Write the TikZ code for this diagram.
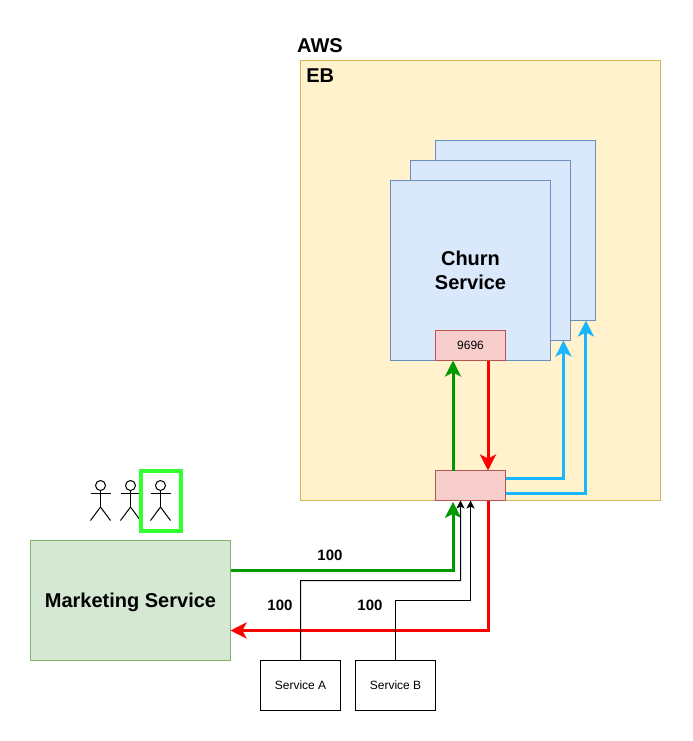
\documentclass[tikz,border=0pt]{standalone}
\usepackage{fontspec}
\setmainfont{Liberation Sans}
\usepackage[dvipsnames]{xcolor}
\usetikzlibrary{positioning,calc,arrows.meta}
\definecolor{ebfill}{HTML}{FFF2CC}
\definecolor{ebline}{HTML}{D6B656}
\definecolor{svcfill}{HTML}{DAE8FC}
\definecolor{svcline}{HTML}{6C8EBF}
\definecolor{lbfill}{HTML}{F8CECC}
\definecolor{lbline}{HTML}{B85450}
\definecolor{mktfill}{HTML}{D5E8D4}
\definecolor{mktline}{HTML}{82B366}
\definecolor{flowgreen}{HTML}{009900}
\definecolor{flowblue}{HTML}{1AB5FF}
\definecolor{pickgreen}{HTML}{33FF33}
\tikzset{
	box/.style={draw,rectangle,inner sep=0pt,outer sep=0pt,line width=.75pt,align=center},
	eb/.style={box,draw=ebline,fill=ebfill,minimum width=270pt,minimum height=330pt},
	svc/.style={box,draw=svcline,fill=svcfill,minimum width=120pt,minimum height=135pt},
	lb/.style={box,draw=lbline,fill=lbfill,minimum width=52.5pt,minimum height=22.5pt,font=\fontsize{9}{11}\selectfont},
	client/.style={box,draw=black,fill=white,minimum width=60pt,minimum height=37.5pt,font=\fontsize{9}{11}\selectfont},
	title/.style={draw=none,fill=none,inner sep=0pt,font=\fontsize{15}{18}\selectfont\bfseries},
	count/.style={draw=none,fill=none,font=\fontsize{11.25}{13}\selectfont\bfseries},
	flow/.style={line width=2.25pt,-{Stealth[length=12pt,width=12pt,inset=3pt]}},
	call/.style={line width=.75pt,-{Stealth[length=6pt,width=6pt,inset=1.5pt]}},
	actor/.pic={
		\draw[line width=.75pt] (0,-15) circle (3.75pt);
		\draw[line width=.75pt] (0,-10)--(0,6.5);
		\draw[line width=.75pt] (-10,-7)--(10,-7);
		\draw[line width=.75pt] (-10,20)--(0,6.5)--(10,20);
	}
}
\begin{document}
\begin{tikzpicture}[x=.75pt,y=-.75pt]
	\useasboundingbox (0,0) rectangle (692,741);
	\fill[white] (0,0) rectangle (692,741);

	\node[title] (aws) at (320,46) {AWS};
	\node[eb] (ebbox) at (480.5,280.5) {};
	\node[title,anchor=west] (eblabel) at (306,76) {EB};

	\node[svc] (svcback) at (515.5,230.5) {};
	\node[svc] (svcmid) at (490.5,250.5) {};
	\node[svc,font=\fontsize{15}{18}\selectfont\bfseries] (svcfront) at (470.5,270.5) {Churn\\Service};
	\node[lb] (port) at (470.5,345.5) {9696};
	\node[lb] (lbal) at (470.5,485.5) {};

	\node[box,draw=mktline,fill=mktfill,minimum width=150pt,minimum height=90pt,text depth=0pt,font=\fontsize{15}{18}\selectfont\bfseries] (mkt) at (130.5,600.5) {Marketing Service};
	\node[client] (sa) at (300.5,685.5) {Service A};
	\node[client] (sb) at (395.5,685.5) {Service B};

	\pic at (100.5,500.5) {actor};
	\pic at (130.5,500.5) {actor};
	\pic at (160.5,500.5) {actor};
	\node[draw=pickgreen,line width=3pt,inner sep=0pt,outer sep=0pt,minimum width=30pt,minimum height=45pt] (pick) at (160.5,500.5) {};

	% requests going in
	\coordinate (lbgreen) at ($(lbal.south west)!.25!(lbal.south east)$);
	\coordinate (lbred) at ($(lbal.south west)!.75!(lbal.south east)$);
	\coordinate (mktgreen) at ($(mkt.north east)!.25!(mkt.south east)$);
	\coordinate (mktred) at ($(mkt.north east)!.75!(mkt.south east)$);
	\draw[flow,flowgreen] (mktgreen) -| ([yshift=-1pt]lbgreen);
	\draw[flow,flowgreen] ($(lbal.north west)!.25!(lbal.north east)$) -- ($(port.south west)!.25!(port.south east)$);
	\draw[flow,red] ($(port.south west)!.75!(port.south east)$) -- ($(lbal.north west)!.75!(lbal.north east)$);
	\draw[flow,red] (lbred) |- (mktred);

	% to the other instances
	\draw[flow,flowblue] ($(lbal.north east)!.25!(lbal.south east)$) -| ($(svcmid.south west)!.956!(svcmid.south east)$);
	\draw[flow,flowblue] ($(lbal.north east)!.75!(lbal.south east)$) -| ($(svcback.south west)!.94!(svcback.south east)$);

	\draw[call] (sa.north) |- (460.5,580.5) -- ($(lbal.south west)!.357!(lbal.south east)$);
	\draw[call] (sb.north) |- (470.5,600.5) -- (lbal.south);

	\node[count] (countmkt) at (330,555.5) {100};
	\node[count] (counta) at (280,605.5) {100};
	\node[count] (countb) at (370,605.5) {100};
\end{tikzpicture}
\end{document}
